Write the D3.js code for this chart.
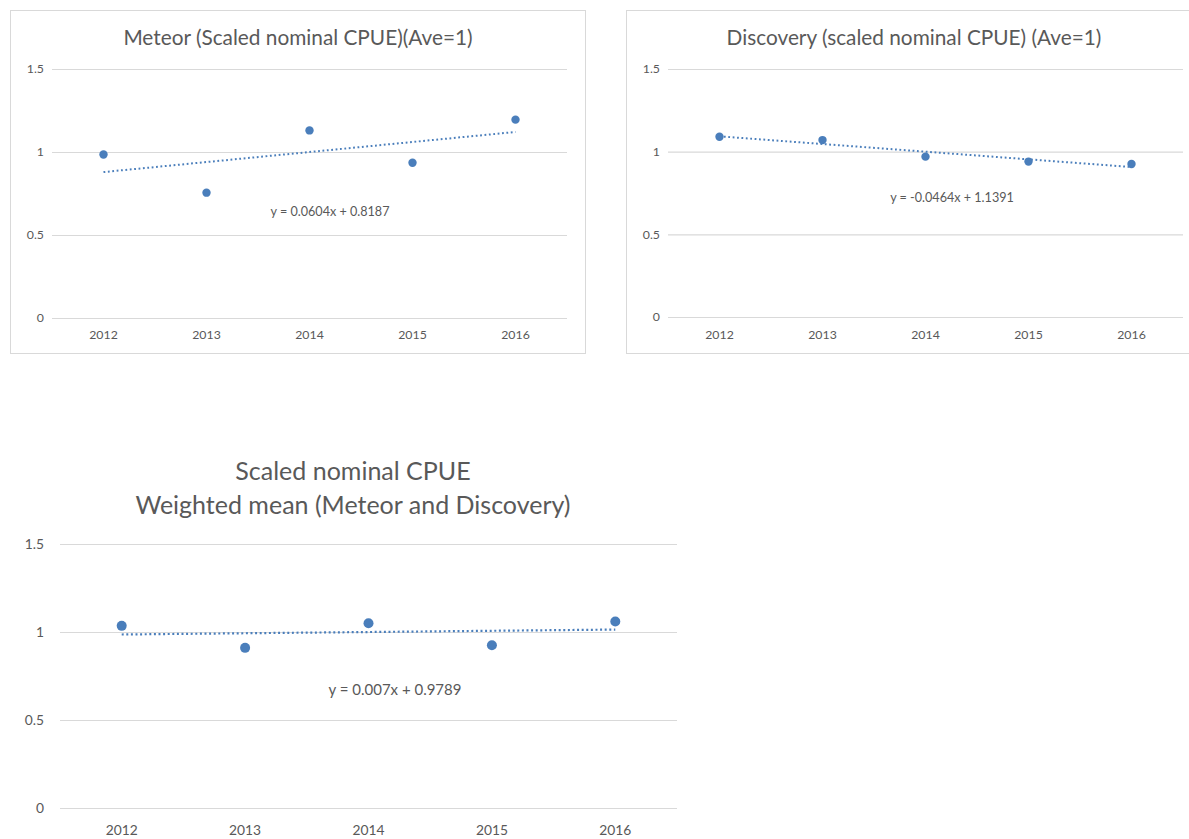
<!DOCTYPE html>
<html>
<head>
<meta charset="utf-8">
<script src="https://cdn.jsdelivr.net/npm/d3@7"></script>
<style>
html,body{margin:0;padding:0;background:#fff;}
svg{display:block;font-family:Lato,"Open Sans",sans-serif;}
</style>
</head>
<body>
<svg id="c" width="1189" height="839"></svg>
<script>
const years = ["2012","2013","2014","2015","2016"];
const yTicks = [0, 0.5, 1, 1.5];
const meteorValues = [0.985, 0.755, 1.13, 0.935, 1.195];
const discoveryValues = [1.09, 1.07, 0.97, 0.94, 0.925];
const weightedValues = [1.035, 0.91, 1.05, 0.925, 1.06];
const meteorTrend = {slope: 0.0604, intercept: 0.8187, label: "y = 0.0604x + 0.8187"};
const discoveryTrend = {slope: -0.0464, intercept: 1.1391, label: "y = -0.0464x + 1.1391"};
const weightedTrend = {slope: 0.007, intercept: 0.9789, label: "y = 0.007x + 0.9789"};
const titles = {
  meteor: ["Meteor (Scaled nominal CPUE)(Ave=1)"],
  discovery: ["Discovery (scaled nominal CPUE) (Ave=1)"],
  weighted: ["Scaled nominal CPUE", "Weighted mean (Meteor and Discovery)"]
};

const svg = d3.select("#c");
const COLOR = "#4a7ebb";
const TXT = "#595959";
const GRID = "#d9d9d9";

function drawChart(cfg){
  const g = svg.append("g");
  if (cfg.frame){
    g.append("rect").attr("x", cfg.frame[0]+0.5).attr("y", cfg.frame[1]+0.5)
      .attr("width", cfg.frame[2]).attr("height", cfg.frame[3])
      .attr("fill","#fff").attr("stroke", GRID).attr("stroke-width",1);
  }
  const x = d3.scaleBand().domain(years).range([cfg.left, cfg.right]);
  const y = d3.scaleLinear().domain([0,1.5]).range([cfg.bottom, cfg.top]);
  const cx = d => x(d) + x.bandwidth()/2;

  const ga = g.append("g").attr("transform", `translate(${cfg.left},0)`)
    .call(d3.axisLeft(y).tickValues(yTicks).tickSize(-(cfg.right-cfg.left)).tickPadding(cfg.tickPad).tickFormat(d3.format("")));
  ga.select(".domain").remove();
  ga.selectAll(".tick line").attr("stroke", GRID).attr("stroke-width",1.2);
  ga.selectAll(".tick text").attr("fill", TXT).attr("font-size", cfg.tickFont).attr("font-family","Lato,sans-serif");

  const xa = g.append("g").attr("transform", `translate(0,${cfg.bottom})`)
    .call(d3.axisBottom(x).tickSize(0).tickPadding(cfg.xPad));
  xa.select(".domain").remove();
  xa.selectAll(".tick text").attr("fill", TXT).attr("font-size", cfg.tickFont).attr("font-family","Lato,sans-serif");

  cfg.title.forEach((t,i)=>{
    g.append("text").attr("x", cfg.titleX).attr("y", cfg.titleY + i*cfg.titleLH)
      .attr("text-anchor","middle").attr("fill", TXT).attr("font-size", cfg.titleFont).text(t);
  });

  const tr = cfg.trend;
  const line = d3.line().x(d=>cx(d.yr)).y(d=>y(d.v));
  const pts = [ {yr: years[0], v: tr.intercept + tr.slope*1}, {yr: years[years.length-1], v: tr.intercept + tr.slope*years.length} ];
  g.append("path").attr("d", line(pts)).attr("fill","none").attr("stroke", COLOR)
    .attr("stroke-width", cfg.trendW).attr("stroke-dasharray", cfg.dash);

  g.selectAll("circle.p").data(cfg.values).enter().append("circle")
    .attr("cx",(d,i)=>cx(years[i])).attr("cy",d=>y(d)).attr("r",cfg.r).attr("fill",COLOR);

  g.append("text").attr("x", cfg.eqX).attr("y", cfg.eqY).attr("text-anchor","middle")
    .attr("fill", TXT).attr("font-size", cfg.eqFont).text(tr.label);
}

drawChart({frame:[10,10,575,343], left:52, right:567, top:69, bottom:318, tickPad:8, xPad:12, tickFont:12.3,
  title:titles.meteor, titleX:298, titleY:45, titleLH:0, titleFont:20.8, trend:meteorTrend, values:meteorValues,
  r:4.2, trendW:2, dash:"1.8,2.6", eqX:330, eqY:216, eqFont:12.6});
drawChart({frame:[626,10,580,343], left:668, right:1183, top:69, bottom:317, tickPad:8, xPad:13, tickFont:12.3,
  title:titles.discovery, titleX:914, titleY:45, titleLH:0, titleFont:20.8, trend:discoveryTrend, values:discoveryValues,
  r:4.2, trendW:2, dash:"1.8,2.6", eqX:952, eqY:202, eqFont:12.6});
drawChart({frame:null, left:60, right:677, top:544, bottom:808, tickPad:16, xPad:17, tickFont:13.8,
  title:titles.weighted, titleX:353, titleY:480, titleLH:34, titleFont:25, trend:weightedTrend, values:weightedValues,
  r:5, trendW:2.2, dash:"2,2.6", eqX:395, eqY:695, eqFont:15});
</script>
</body>
</html>
